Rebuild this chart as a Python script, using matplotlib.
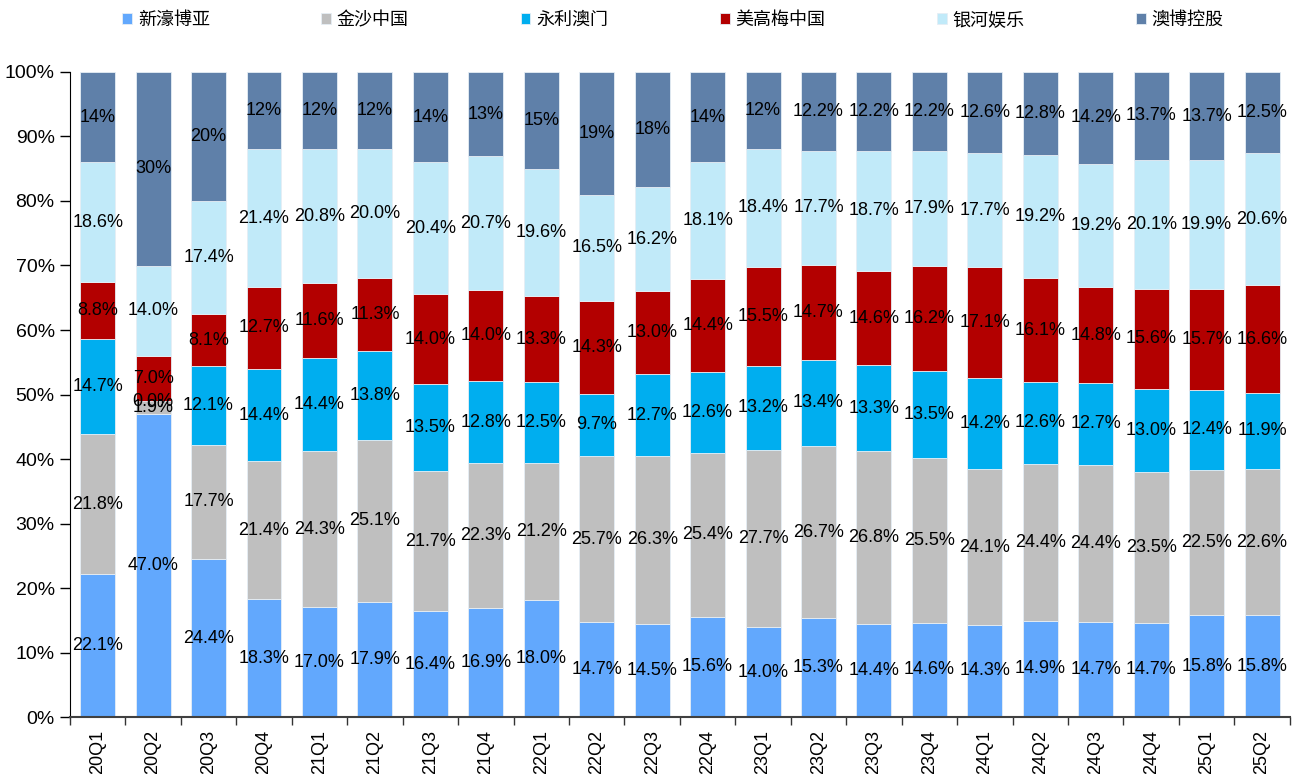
import numpy as np
import matplotlib
matplotlib.use("Agg")
import matplotlib.pyplot as plt
from matplotlib.ticker import FixedLocator, PercentFormatter

plt.rcParams['font.family'] = ['Liberation Sans', 'Noto Sans CJK SC', 'DejaVu Sans']

quarters = ["20Q1", "20Q2", "20Q3", "20Q4", "21Q1", "21Q2", "21Q3", "21Q4",
            "22Q1", "22Q2", "22Q3", "22Q4", "23Q1", "23Q2", "23Q3", "23Q4",
            "24Q1", "24Q2", "24Q3", "24Q4", "25Q1", "25Q2"]

melco = [22.1, 47.0, 24.4, 18.3, 17.0, 17.9, 16.4, 16.9, 18.0, 14.7, 14.5,
         15.6, 14.0, 15.3, 14.4, 14.6, 14.3, 14.9, 14.7, 14.7, 15.8, 15.8]
sands = [21.8, 1.9, 17.7, 21.4, 24.3, 25.1, 21.7, 22.3, 21.2, 25.7, 26.3,
         25.4, 27.7, 26.7, 26.8, 25.5, 24.1, 24.4, 24.4, 23.5, 22.5, 22.6]
wynn = [14.7, 0.0, 12.1, 14.4, 14.4, 13.8, 13.5, 12.8, 12.5, 9.7, 12.7,
        12.6, 13.2, 13.4, 13.3, 13.5, 14.2, 12.6, 12.7, 13.0, 12.4, 11.9]
mgm = [8.8, 7.0, 8.1, 12.7, 11.6, 11.3, 14.0, 14.0, 13.3, 14.3, 13.0,
       14.4, 15.5, 14.7, 14.6, 16.2, 17.1, 16.1, 14.8, 15.6, 15.7, 16.6]
galaxy = [18.6, 14.0, 17.4, 21.4, 20.8, 20.0, 20.4, 20.7, 19.6, 16.5, 16.2,
          18.1, 18.4, 17.7, 18.7, 17.9, 17.7, 19.2, 19.2, 20.1, 19.9, 20.6]
sjm = [14, 30, 20, 12, 12, 12, 14, 13, 15, 19, 18,
       14, 12, 12.2, 12.2, 12.2, 12.6, 12.8, 14.2, 13.7, 13.7, 12.5]

series = [
    ("新濠博亚", melco, "#62A8FD"),
    ("金沙中国", sands, "#BFBFBF"),
    ("永利澳门", wynn, "#00AEEF"),
    ("美高梅中国", mgm, "#B30000"),
    ("银河娱乐", galaxy, "#C1EAF9"),
    ("澳博控股", sjm, "#5F80A9"),
]

# rounded shares don't always add up to 100, the original bars are 100% stacked
totals = np.sum([np.array(v, dtype=float) for _, v, _ in series], axis=0)
scale = 100.0 / totals

fig = plt.figure(figsize=(12.95, 7.74), dpi=100)
ax = fig.add_axes([0.054, 0.0736, 0.942, 0.8334])

x = np.arange(len(quarters))
bottom = np.zeros(len(quarters))
for i, (name, vals, color) in enumerate(series):
    vals = np.array(vals, dtype=float)
    heights = vals * scale
    ax.bar(x, heights, 0.63, bottom=bottom, color=color, label=name,
           edgecolor="#E6EEF5", linewidth=0.6)
    for xi, b, h, v in zip(x, bottom, heights, vals):
        if i == len(series) - 1:
            txt = "{:g}%".format(v)
        else:
            txt = "{:.1f}%".format(v)
        ax.text(xi, b + h / 2, txt, ha="center", va="center",
                fontsize=13, color="black")
    bottom += heights

ax.set_xlim(-0.5, len(quarters) - 0.5)
ax.set_ylim(0, 100)
ax.set_yticks(np.arange(0, 101, 10))
ax.yaxis.set_major_formatter(PercentFormatter(decimals=0))
ax.tick_params(axis="y", labelsize=14, length=7, width=1, pad=4)

ax.set_xticks(x)
ax.set_xticklabels(quarters, rotation=90, fontsize=13)
ax.tick_params(axis="x", which="major", length=0, pad=9)
ax.xaxis.set_minor_locator(FixedLocator(np.arange(-0.5, len(quarters), 1)))
ax.tick_params(axis="x", which="minor", length=6, width=1, color="#333333")

for s in ["top", "right"]:
    ax.spines[s].set_visible(False)
ax.spines["left"].set_color("black")
ax.spines["bottom"].set_color("#404040")
ax.spines["bottom"].set_linewidth(1.5)

fig.legend(loc="center", bbox_to_anchor=(0.082, 0.954, 0.875, 0.04), mode="expand",
           ncol=6, frameon=False, handlelength=0.55, handleheight=0.55,
           handletextpad=0.3, prop={"family": ["Noto Sans CJK SC"], "size": 13})

fig.savefig("out.png", dpi=100)
